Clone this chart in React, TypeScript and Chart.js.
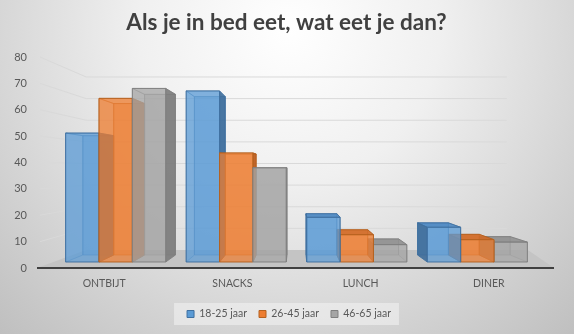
import React, { useEffect, useRef } from 'react';
import { Chart, registerables } from 'chart.js';

Chart.register(...registerables);

// ---- data ----
const chartTitle = 'Als je in bed eet, wat eet je dan?';
const categories = ['ONTBIJT', 'SNACKS', 'LUNCH', 'DINER'];
const seriesLabels = ['18-25 jaar', '26-45 jaar', '46-65 jaar'];
const age18to25 = [52, 69, 18, 14];
const age26to45 = [66, 44, 11, 9];
const age46to65 = [70, 38, 7, 8];
const yMin = 0;
const yMax = 80;
const yStep = 10;

// ---- styles ----
const seriesValues = [age18to25, age26to45, age46to65];
const faceColors = ['#5B9BD5', '#ED7D31', '#A5A5A5'];
const edgeColors = ['#3F70A0', '#B5611F', '#7F7F7F'];
const sideColors = ['#3A6A98', '#B85A1C', '#7A7A7A'];
const topColors = ['#4C88C2', '#D06A27', '#8F8F8F'];
const FONT = 'Lato, "Open Sans", sans-serif';
const TEXT = '#595959';

// perspective depth factors (1 = front plane of the axes)
const S_WALL = 0.82;
const S_BAR_FRONT = 0.94;
const S_BAR_BACK = 0.87;
const VP_Y_FRAC = 0.526;
const TITLE_SHIFT = 10;
const LEGEND_SHIFT = 12.5;

type Pt = [number, number];

const scene3d = {
  id: 'scene3d',
  afterLayout(chart: any) {
    const t = chart.titleBlock;
    if (t) {
      t.left += TITLE_SHIFT;
      t.right += TITLE_SHIFT;
    }
    const lg = chart.legend;
    if (lg) {
      lg.left += LEGEND_SHIFT;
      lg.right += LEGEND_SHIFT;
    }
  },
  beforeDraw(chart: any) {
    const { ctx, width, height } = chart;
    ctx.save();
    const g = ctx.createRadialGradient(289, 30, 0, 289, 30, 430);
    g.addColorStop(0, '#ffffff');
    g.addColorStop(0.35, '#f0f0f0');
    g.addColorStop(1, '#bdbdbd');
    ctx.fillStyle = g;
    ctx.fillRect(0, 0, width, height);
    const lg = chart.legend;
    if (lg && lg.legendHitBoxes && lg.legendHitBoxes.length) {
      let l = Infinity;
      let r = -Infinity;
      let cy = 0;
      lg.legendHitBoxes.forEach((b: any) => {
        l = Math.min(l, b.left);
        r = Math.max(r, b.left + b.width);
        cy = b.top + b.height / 2;
      });
      ctx.fillStyle = 'rgba(244,244,244,0.55)';
      ctx.fillRect(l - 13, cy - 11, r - l + 21, 22);
    }
    ctx.restore();
  },
  beforeDatasetsDraw(chart: any) {
    const { ctx, chartArea: ca, scales } = chart;
    const ys = scales.y;
    const vx = (ca.left + ca.right) / 2;
    const vy = ca.top + (ca.bottom - ca.top) * VP_Y_FRAC;
    const P = (X: number, Y: number, s: number): Pt => [vx + (X - vx) * s, vy + (Y - vy) * s];
    const path = (pts: Pt[]) => {
      ctx.beginPath();
      ctx.moveTo(pts[0][0], pts[0][1]);
      for (let i = 1; i < pts.length; i++) ctx.lineTo(pts[i][0], pts[i][1]);
      ctx.closePath();
    };
    ctx.save();

    // wall gridlines (left wall + back wall)
    ctx.strokeStyle = '#d9d9d9';
    ctx.lineWidth = 1;
    for (let v = yMin + yStep; v <= yMax; v += yStep) {
      const Y = ys.getPixelForValue(v);
      const a = P(ca.left, Y, 1);
      const b = P(ca.left, Y, S_WALL);
      const c = P(ca.right, Y, S_WALL);
      ctx.beginPath();
      ctx.moveTo(a[0], a[1]);
      ctx.lineTo(b[0], b[1]);
      ctx.lineTo(c[0], c[1]);
      ctx.stroke();
    }

    // floor
    const Y0 = ys.getPixelForValue(yMin);
    const bl = P(ca.left, Y0, S_WALL);
    const br = P(ca.right, Y0, S_WALL);
    path([[ca.left - 3, Y0], [ca.right + 1, Y0], [br[0] + 21, br[1]], [bl[0], bl[1]]]);
    ctx.fillStyle = '#c4c4c4';
    ctx.fill();

    // axis line
    ctx.beginPath();
    ctx.moveTo(ca.left - 3, Y0);
    ctx.lineTo(ca.right + 1, Y0);
    ctx.strokeStyle = '#404040';
    ctx.lineWidth = 2;
    ctx.stroke();

    // bars
    const items: any[] = [];
    chart.data.datasets.forEach((_ds: any, di: number) => {
      const meta = chart.getDatasetMeta(di);
      if (meta.hidden) return;
      meta.data.forEach((el: any) => {
        const p = el.getProps(['x', 'y', 'base', 'width'], true);
        items.push({ di, X0: p.x - p.width / 2, X1: p.x + p.width / 2, Yt: p.y, Yb: p.base, cx: p.x });
      });
    });
    items.sort((a, b) => Math.abs(b.cx - vx) - Math.abs(a.cx - vx));

    const face = (pts: Pt[], fill: string, alpha: number, stroke: string, strokeAlpha: number) => {
      path(pts);
      ctx.globalAlpha = alpha;
      ctx.fillStyle = fill;
      ctx.fill();
      ctx.globalAlpha = strokeAlpha;
      ctx.strokeStyle = stroke;
      ctx.lineWidth = 1;
      ctx.stroke();
      ctx.globalAlpha = 1;
    };

    items.forEach((it) => {
      const { di, X0, X1, Yt, Yb } = it;
      const fTL = P(X0, Yt, S_BAR_FRONT), fTR = P(X1, Yt, S_BAR_FRONT);
      const fBL = P(X0, Yb, S_BAR_FRONT), fBR = P(X1, Yb, S_BAR_FRONT);
      const bTL = P(X0, Yt, S_BAR_BACK), bTR = P(X1, Yt, S_BAR_BACK);
      const bBL = P(X0, Yb, S_BAR_BACK), bBR = P(X1, Yb, S_BAR_BACK);
      const fc = faceColors[di], ec = edgeColors[di], sc = sideColors[di], tc = topColors[di];
      face([bTL, bTR, bBR, bBL], fc, 0.5, ec, 0.5);
      const faces = [
        { pts: [fTL, fTR, bTR, bTL] as Pt[], vis: Yt > vy, col: tc },
        { pts: [fTL, bTL, bBL, fBL] as Pt[], vis: X0 > vx, col: sc },
        { pts: [fTR, bTR, bBR, fBR] as Pt[], vis: X1 < vx, col: sc },
      ];
      faces.filter((f) => !f.vis).forEach((f) => face(f.pts, fc, 0.15, ec, 0.45));
      faces.filter((f) => f.vis).forEach((f) => face(f.pts, f.col, 0.88, ec, 0.9));
      face([fTL, fTR, fBR, fBL], fc, 0.72, ec, 0.95);
    });

    ctx.restore();
    return false;
  },
};

export default function App() {
  const ref = useRef<HTMLCanvasElement | null>(null);
  useEffect(() => {
    if (!ref.current) return;
    const chart = new Chart(ref.current, {
      type: 'bar',
      data: {
        labels: categories,
        datasets: seriesLabels.map((label, i) => ({
          label,
          data: seriesValues[i],
          backgroundColor: faceColors[i],
          borderColor: edgeColors[i],
          borderWidth: 1,
        })),
      },
      options: {
        animation: false,
        responsive: false,
        devicePixelRatio: 1,
        layout: { padding: { left: 0, right: 21, top: 0, bottom: 4.75 } },
        datasets: { bar: { categoryPercentage: 0.83, barPercentage: 1 } },
        scales: {
          x: {
            grid: { display: false, drawTicks: false },
            border: { display: false },
            ticks: {
              color: TEXT,
              font: { family: FONT, size: 10.5 },
              padding: 9,
              maxRotation: 0,
              autoSkip: false,
            },
            afterFit: (s: any) => {
              s.height = 28.75;
            },
          },
          y: {
            min: yMin,
            max: yMax,
            grid: { display: false, drawTicks: false },
            border: { display: false },
            ticks: {
              stepSize: yStep,
              padding: 13,
              color: TEXT,
              font: { family: FONT, size: 11 },
            },
            afterFit: (s: any) => {
              s.width = 40;
            },
          },
        },
        plugins: {
          title: {
            display: true,
            text: chartTitle,
            color: '#404040',
            font: { family: FONT, size: 22.5, weight: 'bold' },
            padding: { top: 9.5, bottom: 20.5 },
          },
          legend: {
            position: 'bottom',
            labels: {
              boxWidth: 7,
              boxHeight: 7,
              padding: 12,
              color: TEXT,
              font: { family: FONT, size: 10.5 },
            },
          },
          tooltip: { enabled: false },
        },
      } as any,
      plugins: [scene3d as any],
    });
    return () => chart.destroy();
  }, []);
  return (
    <div style={{ position: 'fixed', left: 0, top: 0, width: 574, height: 334 }}>
      <canvas ref={ref} width={574} height={334} style={{ display: 'block' }} />
    </div>
  );
}
